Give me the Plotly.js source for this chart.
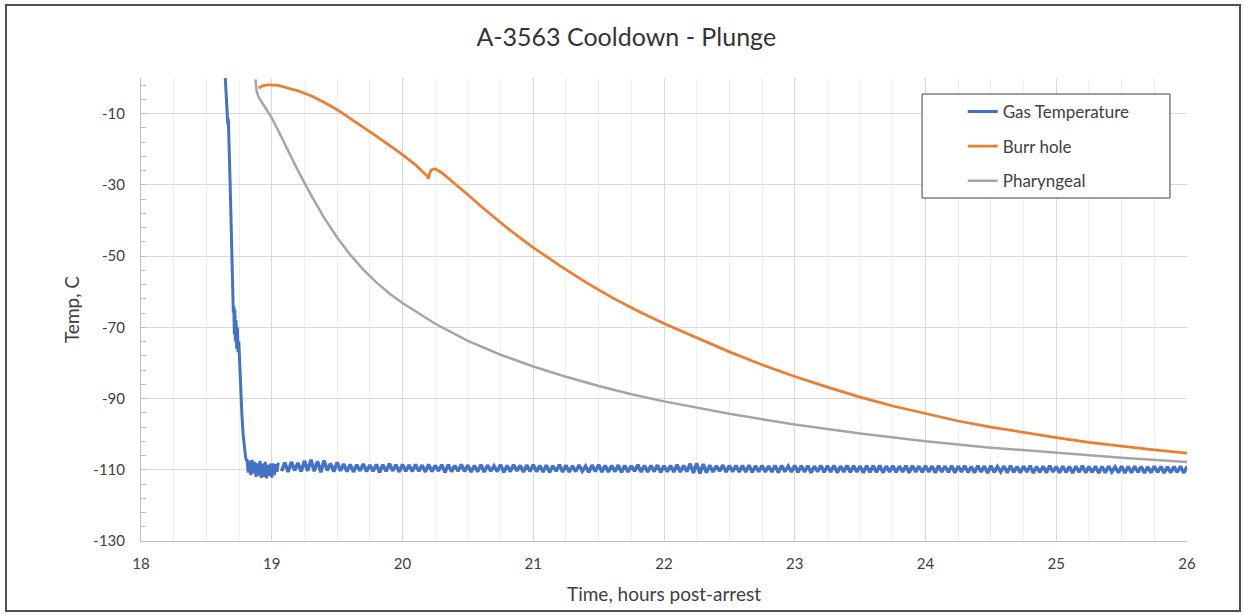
<!DOCTYPE html>
<html>
<head>
<meta charset="utf-8">
<script src="https://cdn.plot.ly/plotly-3.0.1.min.js"></script>
<style>
  html, body { margin: 0; padding: 0; background: #fff; }
  #wrap { position: relative; width: 1245px; height: 614px; }
  #chart { width: 1245px; height: 614px; }
  #frame { position: absolute; left: 5px; top: 4px; width: 1232px; height: 604px;
           border: 2px solid #505050; pointer-events: none; }
</style>
</head>
<body>
<div id="wrap">
  <div id="chart"></div>
  <div id="frame"></div>
</div>
<script>
// ---- Data ----
const chartTitle = "A-3563 Cooldown - Plunge";
const xTitle = "Time, hours post-arrest";
const yTitle = "Temp, C";
const seriesNames = ["Gas Temperature", "Burr hole", "Pharyngeal"];

const xTickVals = [18, 19, 20, 21, 22, 23, 24, 25, 26];
const xTickLabels = ["18", "19", "20", "21", "22", "23", "24", "25", "26"];
const yTickVals = [-130, -110, -90, -70, -50, -30, -10];
const yTickLabels = ["-130", "-110", "-90", "-70", "-50", "-30", "-10"];

// Gas temperature: initial plunge (hours, deg C)
const gasDropX = [18.643, 18.652, 18.659, 18.664, 18.668, 18.674, 18.682, 18.690, 18.697, 18.702,
                  18.706, 18.710, 18.714, 18.718, 18.722, 18.727, 18.732, 18.737, 18.742, 18.748,
                  18.754, 18.762, 18.771, 18.781, 18.790, 18.800, 18.808,
                  18.81, 18.82, 18.83, 18.84, 18.85, 18.86, 18.87, 18.88, 18.89, 18.90,
                  18.91, 18.92, 18.93, 18.94, 18.95, 18.96, 18.97, 18.98, 18.99, 19.00,
                  19.01, 19.02, 19.03, 19.04, 19.05];
const gasDropY = [1, -6, -10, -13, -11.5, -18, -30, -42, -54, -62,
                  -66, -64, -72, -65, -74, -68, -76, -70, -77, -74,
                  -80, -87, -94, -100, -104, -106.5, -107.5,
                  -107.0, -110.8, -107.4, -111.5, -107.2, -111.0, -107.8, -112.0, -108.2, -111.6,
                  -107.5, -112.3, -108.3, -112.0, -107.8, -112.4, -108.6, -111.7, -108.3, -112.2,
                  -108.2, -111.5, -108.4, -110.6, -108.0];

// Gas temperature: steady noisy plateau, sampled every 0.025 h from 19.075 h
const gasPlateauStart = 19.075;
const gasPlateauStep = 0.025;
const gasPlateauY = [
  -110.4,-108.0,-110.6,-107.8,-110.2,-108.1,-110.5,-107.5,-110.3,-107.2,-110.4,-107.6,-110.7,-107.4,-110.2,-108.2,-110.5,-107.9,-110.3,-108.4,
  -110.5,-108.5,-110.6,-108.6,-110.3,-108.4,-110.5,-108.7,-110.4,-108.5,-110.7,-108.6,-110.4,-108.3,-110.3,-108.6,-110.6,-108.5,-110.4,-108.7,
  -110.5,-108.5,-110.4,-108.7,-110.6,-108.5,-110.5,-108.8,-110.3,-108.6,-110.7,-108.6,-110.5,-108.8,-110.4,-108.5,-110.5,-108.7,-110.6,-108.8,
  -110.5,-108.6,-110.6,-108.7,-110.4,-108.9,-110.5,-108.6,-110.7,-108.8,-110.5,-108.6,-110.3,-108.8,-110.6,-108.7,-110.5,-108.6,-110.5,-108.8,
  -110.6,-108.7,-110.7,-108.9,-110.4,-108.6,-110.6,-108.7,-110.6,-108.9,-110.5,-108.7,-110.4,-109.0,-110.7,-108.7,-110.5,-108.6,-110.6,-108.8,
  -110.6,-108.8,-110.5,-108.7,-110.7,-108.8,-110.6,-108.9,-110.4,-108.6,-110.6,-108.8,-110.6,-108.8,-110.5,-108.7,-110.7,-108.9,-110.5,-108.8,
  -110.6,-108.6,-110.6,-108.8,-110.5,-108.3,-110.9,-108.2,-111.0,-108.4,-110.8,-108.7,-110.6,-108.9,-110.4,-108.7,-110.6,-108.8,-110.5,-108.8,
  -110.6,-108.8,-110.6,-108.7,-110.7,-108.9,-110.5,-108.8,-110.6,-109.0,-110.6,-108.8,-110.8,-108.8,-110.5,-109.0,-110.6,-108.8,-110.7,-108.9,
  -110.6,-108.9,-110.8,-109.0,-110.5,-108.8,-110.7,-108.9,-110.6,-108.8,-110.8,-109.0,-110.6,-108.8,-110.7,-108.9,-110.6,-109.0,-110.8,-108.9,
  -110.7,-108.9,-110.7,-108.8,-110.8,-109.0,-110.6,-108.9,-110.7,-109.0,-110.6,-108.9,-110.8,-108.9,-110.6,-109.0,-110.7,-108.9,-110.6,-109.0,
  -110.8,-108.9,-110.6,-109.0,-110.7,-108.9,-110.8,-109.0,-110.6,-108.9,-110.7,-109.1,-110.8,-108.9,-110.6,-109.0,-110.9,-108.9,-110.7,-109.1,
  -110.6,-109.0,-110.8,-108.9,-110.7,-109.1,-110.8,-109.0,-110.6,-108.9,-110.9,-109.1,-110.7,-109.0,-110.8,-108.9,-110.6,-109.1,-110.8,-109.0,
  -110.7,-109.1,-110.9,-109.0,-110.7,-108.9,-110.8,-109.1,-110.7,-109.0,-110.9,-109.1,-110.8,-109.0,-110.6,-109.2,-110.8,-109.0,-110.9,-109.1,
  -110.8,-109.0,-110.7,-109.1,-110.9,-109.2,-110.8,-109.0,-110.7,-109.1,-110.9,-109.2,-110.8,-109.1,-110.7,-109.0,-110.9,-109.2,-110.8,-109.1
];

// Burr hole probe
const burrX = [18.90, 18.93, 18.97, 19.00, 19.05, 19.10, 19.20, 19.30, 19.40, 19.50,
               19.60, 19.70, 19.80, 19.90, 20.00, 20.10, 20.19, 20.20, 20.205, 20.22,
               20.25, 20.30, 20.40, 20.50, 20.60, 20.70, 20.80, 20.90, 21.00, 21.20,
               21.40, 21.60, 21.80, 22.00, 22.25, 22.50, 22.75, 23.00, 23.25, 23.50,
               23.75, 24.00, 24.25, 24.50, 24.75, 25.00, 25.25, 25.50, 25.75, 26.00];
const burrY = [-2.8, -2.2, -1.9, -1.9, -2.1, -2.6, -3.6, -5.0, -6.8, -8.9,
               -11.3, -13.8, -16.3, -18.9, -21.5, -24.4, -27.6, -28.3, -27.0, -25.8,
               -25.5, -26.6, -29.6, -32.8, -36.0, -39.1, -42.1, -44.9, -47.6, -52.6,
               -57.3, -61.6, -65.4, -68.9, -73.0, -76.9, -80.5, -83.8, -86.8, -89.6,
               -92.1, -94.3, -96.3, -98.0, -99.6, -101.0, -102.3, -103.4, -104.4, -105.3];

// Pharyngeal probe
const pharX = [18.875, 18.880, 18.885, 18.90, 18.95, 19.00, 19.05, 19.10, 19.20, 19.30,
               19.40, 19.50, 19.60, 19.70, 19.80, 19.90, 20.00, 20.25, 20.50, 20.75,
               21.00, 21.25, 21.50, 21.75, 22.00, 22.50, 23.00, 23.50, 24.00, 24.50,
               25.00, 25.50, 26.00];
const pharY = [-0.4, -2.5, -3.8, -5.4, -8.2, -11.2, -14.8, -18.6, -26.0, -32.8,
               -39.2, -44.8, -49.6, -53.8, -57.4, -60.5, -63.2, -69.0, -73.8, -77.7,
               -81.0, -83.9, -86.5, -88.8, -90.8, -94.3, -97.3, -99.8, -102.0, -103.8,
               -105.3, -106.6, -107.8];

const colors = ["#4472C4", "#ED7D31", "#A5A5A5"];
const font = "Lato, 'Open Sans', sans-serif";

const traces = [
  { x: gasDropX, y: gasDropY, name: seriesNames[0], legendgroup: "g1", type: "scatter", mode: "lines",
    line: { color: colors[0], width: 3 } },
  { y: gasPlateauY, x0: gasPlateauStart, dx: gasPlateauStep, name: seriesNames[0], legendgroup: "g1",
    showlegend: false, type: "scatter", mode: "lines", line: { color: colors[0], width: 3.5 } },
  { x: burrX, y: burrY, name: seriesNames[1], legendgroup: "g2", type: "scatter", mode: "lines",
    line: { color: colors[1], width: 2.75 } },
  { x: pharX, y: pharY, name: seriesNames[2], legendgroup: "g3", type: "scatter", mode: "lines",
    line: { color: colors[2], width: 2.5 } }
];

const layout = {
  width: 1245, height: 614,
  margin: { l: 141, r: 58, t: 78, b: 73, pad: 0 },
  paper_bgcolor: "#ffffff", plot_bgcolor: "#ffffff",
  font: { family: font, color: "#404040", size: 15 },
  title: { text: chartTitle, font: { family: font, size: 25, color: "#333333" },
           x: 0.503, xref: "container", xanchor: "center", y: 0.94, yref: "container", yanchor: "middle" },
  xaxis: {
    range: [18, 26], tickmode: "array", tickvals: xTickVals, ticktext: xTickLabels,
    showgrid: true, gridcolor: "#d9d9d9", gridwidth: 1,
    showline: true, linecolor: "#bfbfbf", linewidth: 1, zeroline: false, ticks: "",
    ticklabelstandoff: 9,
    tickfont: { size: 15, color: "#404040" },
    minor: { tickmode: "linear", tick0: 18, dtick: 0.25, showgrid: true, gridcolor: "#efefef", gridwidth: 1 },
    title: { text: xTitle, font: { size: 19, color: "#404040" }, standoff: 16 }
  },
  yaxis: {
    range: [-130, 0], tickmode: "array", tickvals: yTickVals, ticktext: yTickLabels,
    showgrid: true, gridcolor: "#d9d9d9", gridwidth: 1,
    showline: true, linecolor: "#bfbfbf", linewidth: 1, zeroline: false, ticks: "",
    ticklabelstandoff: 12,
    tickfont: { size: 15, color: "#404040" },
    minor: { tickmode: "linear", dtick: 4, tick0: -10, ticks: "inside", ticklen: 5, tickcolor: "#bfbfbf", showgrid: false },
    title: { text: yTitle, font: { size: 19, color: "#404040" }, standoff: 8 }
  },
  legend: {
    x: 0.7856, y: 0.9654, xanchor: "left", yanchor: "top",
    bgcolor: "rgba(0,0,0,0)", borderwidth: 0,
    font: { size: 17, color: "#404040" }, tracegroupgap: 9.5, traceorder: "grouped"
  },
  shapes: [
    { type: "rect", xref: "paper", yref: "paper", x0: 0.7467, x1: 0.9837, y0: 0.7408, y1: 0.9654,
      line: { color: "#404040", width: 1 }, fillcolor: "#ffffff", layer: "above" }
  ],
  showlegend: true
};

Plotly.newPlot("chart", traces, layout, { displayModeBar: false, staticPlot: true });
</script>
</body>
</html>
